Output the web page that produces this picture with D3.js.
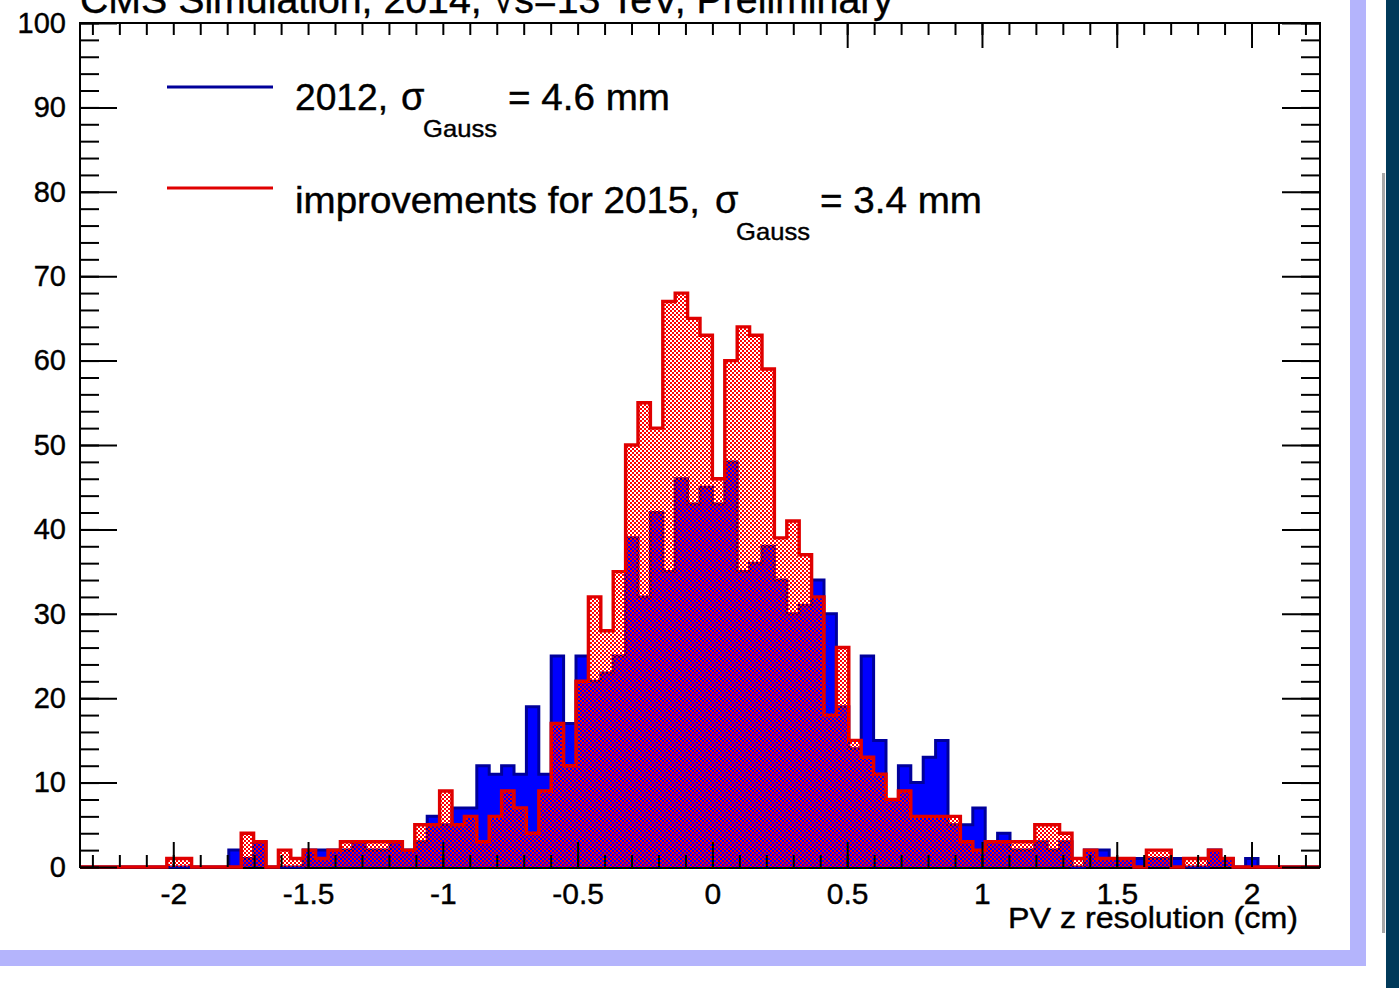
<!DOCTYPE html>
<html>
<head>
<meta charset="utf-8">
<script src="https://cdn.jsdelivr.net/npm/d3@7"></script>
<style>
  html, body { margin: 0; padding: 0; background: #fff; }
  svg { display: block; }
  text { font-family: "Liberation Sans", Arial, Helvetica, sans-serif; stroke: #000; stroke-width: 0.4px; }
</style>
</head>
<body>
<svg width="1399" height="988"></svg>
<script>
// histogram binning (cm)
const binStart = -2.346;
const binWidth = 0.046;

// bin contents, 100 bins
const counts2012 = [
  0, 0, 0, 0, 0, 0, 0, 0, 0, 0,
  0, 0, 2, 1, 3, 0, 0, 0, 2, 2,
  2, 2, 3, 2, 2, 3, 2, 3, 6, 5,
  7, 7, 12, 11, 12, 11, 19, 11, 25, 17,
  25, 22, 23, 25, 39, 32, 42, 35, 46, 43,
  45, 43, 48, 35, 36, 38, 34, 30, 31, 34,
  30, 19, 14, 25, 15, 8, 12, 10, 13, 15,
  5, 5, 7, 3, 4, 2, 2, 3, 2, 3,
  0, 2, 2, 1, 1, 1, 1, 1, 1, 0,
  0, 2, 1, 0, 1, 0, 0, 0, 0, 0
];
const counts2015 = [
  0, 0, 0, 0, 0, 0, 0, 1, 1, 0,
  0, 0, 0, 4, 3, 0, 2, 1, 2, 1,
  2, 3, 3, 3, 3, 3, 2, 5, 5, 9,
  5, 6, 3, 6, 9, 7, 4, 9, 17, 12,
  22, 32, 28, 35, 50, 55, 52, 67, 68, 65,
  63, 46, 60, 64, 63, 59, 39, 41, 37, 32,
  18, 26, 15, 13, 11, 8, 9, 6, 6, 6,
  6, 3, 2, 3, 3, 3, 3, 5, 5, 4,
  1, 2, 1, 1, 1, 0, 2, 2, 0, 1,
  1, 2, 1, 0, 0, 0, 0, 0, 0, 0
];

const xMajorTicks = [-2, -1.5, -1, -0.5, 0, 0.5, 1, 1.5, 2];
const xTopMajorTicks = [0.5, 1, 1.5, 2];
const xMinorTicks = d3.range(-23, 23).map(i => i / 10);
const yMajorTicks = d3.range(0, 101, 10);
const yMinorTicks = d3.range(0, 101, 2);

const titleText = 'CMS Simulation, 2014, \u221As=13 TeV, Preliminary';
const xTitle = 'PV z resolution (cm)';
const legendNames = ['2012,', 'improvements for 2015,'];
const legendValues = ['= 4.6 mm', '= 3.4 mm'];

const blueFill = '#0000ff';
const blueLine = '#00009a';
const redLine = '#e00000';
const redFill = '#ff0000';

const svg = d3.select('svg');
const margin = { left: 80, right: 79, top: 23, bottom: 121 };
const width = +svg.attr('width');
const height = +svg.attr('height');

// slide frame
svg.append('rect').attr('x', 1350).attr('y', 0).attr('width', 16).attr('height', 966).attr('fill', '#b4b4fc');
svg.append('rect').attr('x', 0).attr('y', 950).attr('width', 1366).attr('height', 16).attr('fill', '#b4b4fc');
svg.append('rect').attr('x', 1386).attr('y', 0).attr('width', 13).attr('height', height).attr('fill', '#013a5a');
svg.append('rect').attr('x', 1382).attr('y', 173).attr('width', 3).attr('height', 760).attr('fill', '#a8a8a8');

const nBins = counts2012.length;
const xMax = binStart + nBins * binWidth;

const x = d3.scaleLinear()
  .domain([binStart, xMax])
  .range([margin.left, width - margin.right]);
const y = d3.scaleLinear()
  .domain([0, 100])
  .range([height - margin.bottom, margin.top]);

const defs = svg.append('defs');
const pat = defs.append('pattern')
  .attr('id', 'checker')
  .attr('patternUnits', 'userSpaceOnUse')
  .attr('width', 4).attr('height', 4);
pat.append('rect').attr('x', 0).attr('y', 0).attr('width', 2).attr('height', 2).attr('fill', redFill);
pat.append('rect').attr('x', 2).attr('y', 2).attr('width', 2).attr('height', 2).attr('fill', redFill);

const toPoints = counts => {
  const pts = [[binStart, 0]];
  counts.forEach((c, i) => pts.push([binStart + i * binWidth, c]));
  pts.push([xMax, counts[nBins - 1]]);
  pts.push([xMax, 0]);
  return pts;
};

const line = d3.line()
  .x(d => x(d[0]))
  .y(d => y(d[1]))
  .curve(d3.curveStepAfter);
const area = d3.area()
  .x(d => x(d[0]))
  .y0(y(0))
  .y1(d => y(d[1]))
  .curve(d3.curveStepAfter);

// frame bottom line, under the histograms
svg.append('line')
  .attr('x1', x(binStart)).attr('x2', x(xMax))
  .attr('y1', y(0) + 1).attr('y2', y(0) + 1)
  .attr('stroke', '#000').attr('stroke-width', 2);

const histG = svg.append('g');
const pts2012 = toPoints(counts2012);
const pts2015 = toPoints(counts2015);

histG.append('path')
  .attr('d', area(pts2012))
  .attr('fill', blueFill);
histG.append('path')
  .attr('d', line(pts2012))
  .attr('fill', 'none')
  .attr('stroke', blueLine)
  .attr('stroke-width', 3);

histG.append('path')
  .attr('d', area(pts2015))
  .attr('fill', 'url(#checker)')
  .attr('shape-rendering', 'crispEdges');
histG.append('path')
  .attr('d', line(pts2015))
  .attr('fill', 'none')
  .attr('stroke', redLine)
  .attr('stroke-width', 3.4);

// axes (ticks drawn inward, like ROOT)
const fontFam = '"Liberation Sans", Arial, Helvetica, sans-serif';
const styleAxis = g => {
  g.select('.domain').remove();
  g.selectAll('line').attr('stroke', '#000').attr('stroke-width', 2);
  g.attr('font-family', fontFam);
};
const noLabel = () => '';

svg.append('g')
  .attr('transform', `translate(0,${y(0)})`)
  .call(d3.axisBottom(x).tickValues(xMinorTicks).tickSizeInner(-12).tickSizeOuter(0).tickFormat(noLabel))
  .call(styleAxis);
svg.append('g')
  .attr('transform', `translate(0,${y(0)})`)
  .call(d3.axisBottom(x).tickValues(xMajorTicks).tickSizeInner(-25).tickSizeOuter(0)
    .tickPadding(16).tickFormat(d => String(d)))
  .call(styleAxis)
  .attr('font-size', 30);

svg.append('g')
  .attr('transform', `translate(0,${y(100)})`)
  .call(d3.axisTop(x).tickValues(xMinorTicks).tickSizeInner(-12).tickSizeOuter(0).tickFormat(noLabel))
  .call(styleAxis);
svg.append('g')
  .attr('transform', `translate(0,${y(100)})`)
  .call(d3.axisTop(x).tickValues(xTopMajorTicks).tickSizeInner(-25).tickSizeOuter(0).tickFormat(noLabel))
  .call(styleAxis);

svg.append('g')
  .attr('transform', `translate(${x(binStart)},0)`)
  .call(d3.axisLeft(y).tickValues(yMinorTicks).tickSizeInner(-19).tickSizeOuter(0).tickFormat(noLabel))
  .call(styleAxis);
svg.append('g')
  .attr('transform', `translate(${x(binStart)},0)`)
  .call(d3.axisLeft(y).tickValues(yMajorTicks).tickSizeInner(-37).tickSizeOuter(0)
    .tickPadding(14).tickFormat(d => String(d)))
  .call(styleAxis)
  .attr('font-size', 29);

svg.append('g')
  .attr('transform', `translate(${x(xMax)},0)`)
  .call(d3.axisRight(y).tickValues(yMinorTicks).tickSizeInner(-19).tickSizeOuter(0).tickFormat(noLabel))
  .call(styleAxis);
svg.append('g')
  .attr('transform', `translate(${x(xMax)},0)`)
  .call(d3.axisRight(y).tickValues(yMajorTicks).tickSizeInner(-38).tickSizeOuter(0).tickFormat(noLabel))
  .call(styleAxis);

// frame: left, top, right
svg.append('path')
  .attr('d', `M${x(binStart)},${y(0) + 1}V${y(100)}H${x(xMax)}V${y(0) + 1}`)
  .attr('fill', 'none')
  .attr('stroke', '#000')
  .attr('stroke-width', 2);

// axis title
svg.append('text')
  .attr('x', 1298).attr('y', 928)
  .attr('text-anchor', 'end')
  .attr('font-size', 30)
  .attr('textLength', 290)
  .attr('lengthAdjust', 'spacingAndGlyphs')
  .text(xTitle);

// title (cut at the top of the page, as in the original)
svg.append('text')
  .attr('x', 80).attr('y', 13)
  .attr('font-size', 38)
  .attr('textLength', 813)
  .attr('lengthAdjust', 'spacingAndGlyphs')
  .text(titleText);

// legend
const legendRows = [
  { name: legendNames[0], value: legendValues[0], color: blueLine, ly: 87, base: 110,
    nameLen: 93, sigmaX: 401, subX: 423, valueX: 508 },
  { name: legendNames[1], value: legendValues[1], color: redLine, ly: 188, base: 213,
    nameLen: 405, sigmaX: 715, subX: 736, valueX: 820 }
];
const legG = svg.append('g');
legendRows.forEach(r => {
  legG.append('line')
    .attr('x1', 167).attr('x2', 273)
    .attr('y1', r.ly).attr('y2', r.ly)
    .attr('stroke', r.color).attr('stroke-width', 3.2);
  legG.append('text')
    .attr('x', 295).attr('y', r.base)
    .attr('font-size', 36)
    .attr('textLength', r.nameLen)
    .attr('lengthAdjust', 'spacingAndGlyphs')
    .text(r.name);
  legG.append('text')
    .attr('x', r.sigmaX).attr('y', r.base)
    .attr('font-size', 38)
    .attr('font-family', '"Liberation Serif", "DejaVu Serif", serif')
    .text('\u03C3');
  legG.append('text')
    .attr('x', r.subX).attr('y', r.base + 27)
    .attr('font-size', 24)
    .attr('textLength', 74)
    .attr('lengthAdjust', 'spacingAndGlyphs')
    .text('Gauss');
  legG.append('text')
    .attr('x', r.valueX).attr('y', r.base)
    .attr('font-size', 36)
    .attr('textLength', 162)
    .attr('lengthAdjust', 'spacingAndGlyphs')
    .text(r.value);
});
</script>
</body>
</html>
